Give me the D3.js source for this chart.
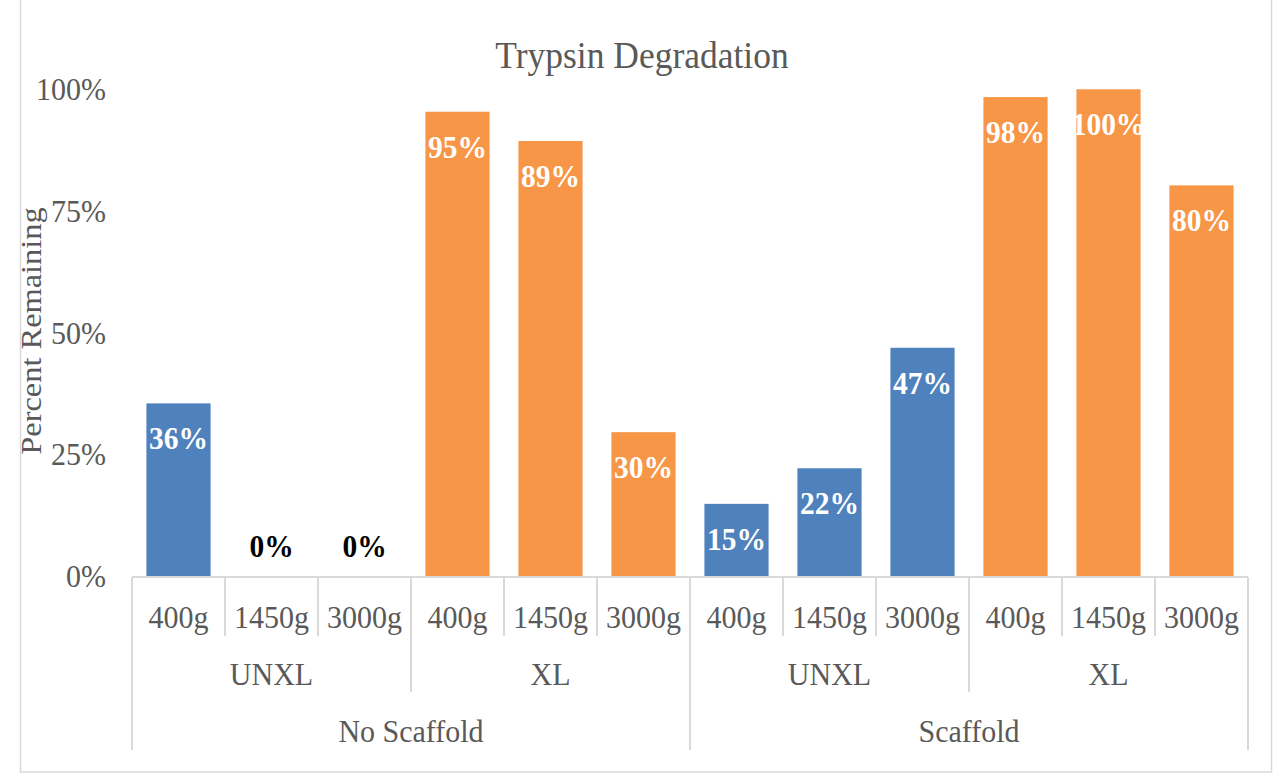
<!DOCTYPE html>
<html><head><meta charset="utf-8">
<script src="https://cdn.jsdelivr.net/npm/d3@7"></script>
<style>body{margin:0;background:#fff}svg{display:block}</style>
</head><body><svg id="c" width="1275" height="780"></svg>
<script>
const categories = ["400g","1450g","3000g","400g","1450g","3000g","400g","1450g","3000g","400g","1450g","3000g"];
const crosslinkGroups = ["UNXL","XL","UNXL","XL"];
const scaffoldGroups = ["No Scaffold","Scaffold"];
const values = [0.356,0,0,0.954,0.894,0.297,0.15,0.223,0.47,0.984,1.0,0.803];
const barSeries = ["UNXL","UNXL","UNXL","XL","XL","XL","UNXL","UNXL","UNXL","XL","XL","XL"];
const yTicks = [0,0.25,0.5,0.75,1];
const seriesColors = {UNXL:"#4F81BD", XL:"#F79646"};
const title = "Trypsin Degradation";
const yTitle = "Percent Remaining";

const FONT = "'Liberation Serif','Times New Roman',serif";
const SY = 1.08;
const svg = d3.select("#c");
const left = 132, right = 1248, y0 = 577, yTop = 89.3;

svg.append("rect").attr("x",20.5).attr("y",-1).attr("width",1251).attr("height",773)
  .attr("fill","#fff").attr("stroke","#d9d9d9").attr("stroke-width",1.5);

const x = d3.scaleBand().domain(d3.range(categories.length)).range([left,right])
  .paddingInner(0.31).paddingOuter(0.155);
const xg = d3.scaleBand().domain(d3.range(crosslinkGroups.length)).range([left,right]);
const xs = d3.scaleBand().domain(d3.range(scaffoldGroups.length)).range([left,right]);
const y = d3.scaleLinear().domain([0,1]).range([y0,yTop]);
const fmt = d3.format(".0%");

// text helper: placed at (px,py) with slight vertical stretch
function place(sel, fx, fy, rot){
  sel.attr("transform",(d,i)=>`translate(${fx(d,i)},${fy(d,i)})${rot?` rotate(${rot})`:""} scale(${rot?SY+",1":"1,"+SY})`);
}

// title
place(svg.append("text").attr("text-anchor","middle")
  .attr("font-family",FONT).attr("font-size",35.5).attr("fill","#595959").text(title), ()=>642, ()=>68);

// y tick labels
svg.append("g").selectAll("text").data(yTicks).join("text")
  .attr("text-anchor","end").attr("font-family",FONT).attr("font-size",30).attr("fill","#595959")
  .attr("dy","0.32em").text(d=>fmt(d))
  .call(s=>place(s,()=>106,d=>y(d)));

// y title
place(svg.append("text").attr("text-anchor","middle")
  .attr("font-family",FONT).attr("font-size",30).attr("fill","#595959").text(yTitle), ()=>41, ()=>331, -90);

// bars
svg.append("g").selectAll("rect").data(values).join("rect")
  .attr("x",(d,i)=>x(i)).attr("width",x.bandwidth())
  .attr("y",d=>y(d)).attr("height",d=>y(0)-y(d))
  .attr("fill",(d,i)=>seriesColors[barSeries[i]]);

// data labels
svg.append("g").selectAll("text").data(values).join("text")
  .attr("text-anchor","middle").attr("font-family",FONT).attr("font-weight","bold")
  .attr("font-size",29.5).attr("fill",d=> d>0 ? "#fff" : "#000")
  .text(d=>fmt(d))
  .call(s=>place(s,(d,i)=>x(i)+x.bandwidth()/2, d=> d>0 ? y(d)+46 : y(0)-20));

// axis line
svg.append("line").attr("x1",left).attr("x2",right).attr("y1",y0).attr("y2",y0)
  .attr("stroke","#d9d9d9").attr("stroke-width",2);

// separators
const step = x.step();
const n = categories.length;
svg.append("g").selectAll("line").data(d3.range(n+1)).join("line")
  .attr("x1",i=>left+i*step).attr("x2",i=>left+i*step)
  .attr("y1",y0).attr("y2",i=> i%6===0 ? 750 : (i%3===0 ? 692 : 636))
  .attr("stroke","#d9d9d9").attr("stroke-width",2);

// category labels
svg.append("g").selectAll("text").data(categories).join("text")
  .attr("text-anchor","middle").attr("font-family",FONT).attr("font-size",30).attr("fill","#595959").text(d=>d)
  .call(s=>place(s,(d,i)=>left+(i+0.5)*step,()=>628));
svg.append("g").selectAll("text").data(crosslinkGroups).join("text")
  .attr("text-anchor","middle").attr("font-family",FONT).attr("font-size",30).attr("fill","#595959").text(d=>d)
  .call(s=>place(s,(d,i)=>xg(i)+xg.bandwidth()/2,()=>685));
svg.append("g").selectAll("text").data(scaffoldGroups).join("text")
  .attr("text-anchor","middle").attr("font-family",FONT).attr("font-size",30).attr("fill","#595959").text(d=>d)
  .call(s=>place(s,(d,i)=>xs(i)+xs.bandwidth()/2,()=>742));
</script></body></html>
